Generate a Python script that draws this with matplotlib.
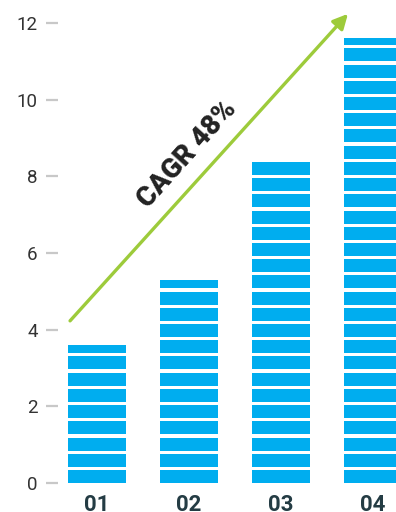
import numpy as np
import matplotlib
matplotlib.use('Agg')
import matplotlib.pyplot as plt

# data
categories = ['01', '02', '03', '04']
values = [3.6, 5.3, 8.4, 11.6]
yticks = [0, 2, 4, 6, 8, 10, 12]
cagr_label = 'CAGR 48%'

blue = '#00adef'
green = '#9dcb3b'

plt.rcParams['font.family'] = ['Roboto', 'DejaVu Sans']

fig = plt.figure(figsize=(3.96, 5.12), dpi=100)
ax = fig.add_axes([58 / 396, 29 / 512, 1 - 58 / 396, 1 - 29 / 512])

# striped bars: stack of short segments with white gaps
period = 0.423
seg = 0.34
x = np.arange(1, len(values) + 1)
for xi, v in zip(x, values):
    bottoms = np.arange(0, v, period)
    heights = np.minimum(seg, v - bottoms)
    ax.bar([xi] * len(bottoms), heights, bottom=bottoms, width=0.63,
           color=blue, linewidth=0)

# growth arrow
ax.annotate('', xy=(3.728, 12.24), xytext=(0.707, 4.23),
            arrowprops=dict(arrowstyle='-|>', color=green, lw=2.4,
                            mutation_scale=22, shrinkA=0, shrinkB=0))
ax.text(1.98, 8.58, cagr_label, rotation=48, rotation_mode='anchor',
        ha='center', va='center', fontsize=20, fontweight='black',
        color='#222222')

ax.set_xlim(0.576, 4.25)
ax.set_ylim(0, 12.6)
ax.set_yticks(yticks)
ax.set_yticklabels([str(t) for t in yticks], fontweight='normal')
ax.set_xticks(x)
ax.set_xticklabels(categories, fontweight='bold', fontsize=16, color='#243c44')
ax.tick_params(axis='y', direction='out', length=8.6, width=1.6,
               color='#c8c8c8', pad=6, labelsize=13.5, labelcolor='#333333')
ax.tick_params(axis='x', length=0, pad=8)
for s in ax.spines.values():
    s.set_visible(False)

plt.savefig('out.png', dpi=100)
plt.close()
